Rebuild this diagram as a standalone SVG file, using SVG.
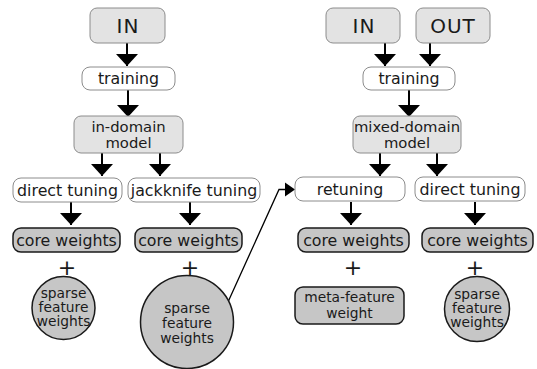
<svg xmlns="http://www.w3.org/2000/svg" width="537" height="369" viewBox="0 0 537 369">
<style>
.lt{fill:#e3e3e3;stroke:#8c8c8c;stroke-width:1}
.wh{fill:#ffffff;stroke:#8c8c8c;stroke-width:1}
.dk{fill:#c6c6c6;stroke:#1a1a1a;stroke-width:1.5}
text{font-family:"DejaVu Sans","Liberation Sans",sans-serif;fill:#1a1a1a;text-anchor:middle}
.big{font-size:20px;letter-spacing:1px}
.m{font-size:15.8px}
.md{font-size:14.8px}
.s{font-size:13.8px}
.plus{font-size:22px}
.ar{stroke:#000;stroke-width:2;fill:none;marker-end:url(#tri)}
</style>
<defs>
<marker id="tri" markerUnits="userSpaceOnUse" viewBox="0 0 12 22" markerWidth="12" markerHeight="22" refX="12" refY="11" orient="auto">
<path d="M0,0 L12,11 L0,22 z" fill="#000"/>
</marker>
</defs>
<g id="connectors">
<line class="ar" x1="127" y1="43" x2="127" y2="66"/>
<line class="ar" x1="128" y1="90" x2="128" y2="117"/>
<line class="ar" x1="102" y1="153" x2="102" y2="176"/>
<line class="ar" x1="160" y1="153" x2="160" y2="176"/>
<line class="ar" x1="71" y1="202" x2="71" y2="225"/>
<line class="ar" x1="190" y1="202" x2="190" y2="225"/>
<line class="ar" x1="385" y1="43" x2="385" y2="66"/>
<line class="ar" x1="430" y1="43" x2="430" y2="66"/>
<line class="ar" x1="409" y1="90" x2="409" y2="117"/>
<line class="ar" x1="380" y1="153" x2="380" y2="176"/>
<line class="ar" x1="437" y1="153" x2="437" y2="176"/>
<line class="ar" x1="351" y1="202" x2="351" y2="225"/>
<line class="ar" x1="475" y1="202" x2="475" y2="225"/>
<path d="M228,302 L279,189.5 L287,189.5" stroke="#000" stroke-width="1.3" fill="none"/>
<path d="M285,182.5 L295,189.5 L285,196.5 z" fill="#000"/>
</g>
<g id="in-left"><rect class="lt" x="90" y="8" width="75" height="35" rx="7"/><text class="big" x="128" y="32.5">IN</text></g>
<g id="training-left"><rect class="wh" x="82" y="67" width="93" height="23" rx="8"/><text class="m" x="128.5" y="84">training</text></g>
<g id="in-domain-model"><rect class="lt" x="74" y="116" width="109" height="37" rx="7"/><text class="md" x="128.5" y="132">in-domain</text><text class="md" x="128.5" y="147.5">model</text></g>
<g id="direct-tuning-left"><rect class="wh" x="13" y="178" width="109" height="24" rx="8"/><text class="m" x="67.5" y="195.5">direct tuning</text></g>
<g id="jackknife-tuning"><rect class="wh" x="128" y="178" width="132" height="24" rx="8"/><text class="m" x="194" y="195.5">jackknife tuning</text></g>
<g id="core-1"><rect class="dk" x="13" y="228" width="107" height="24" rx="8"/><text class="m" x="66.5" y="245.5">core weights</text></g>
<g id="core-2"><rect class="dk" x="135" y="228" width="107" height="24" rx="8"/><text class="m" x="188.5" y="245.5">core weights</text></g>
<g id="plus-1"><text class="plus" x="67" y="275">+</text></g>
<g id="plus-2"><text class="plus" x="190" y="275">+</text></g>
<g id="sparse-1"><circle class="dk" cx="63.5" cy="308" r="31.5"/><text class="s" x="63.5" y="298">sparse</text><text class="s" x="63.5" y="312">feature</text><text class="s" x="63.5" y="326">weights</text></g>
<g id="sparse-2"><circle class="dk" cx="187" cy="322" r="46.5"/><text class="s" x="187" y="313">sparse</text><text class="s" x="187" y="328">feature</text><text class="s" x="187" y="343">weights</text></g>
<g id="in-right"><rect class="lt" x="326" y="8" width="74" height="35" rx="7"/><text class="big" x="364" y="32.5">IN</text></g>
<g id="out"><rect class="lt" x="416" y="8" width="74" height="35" rx="7"/><text class="big" x="453" y="32.5">OUT</text></g>
<g id="training-right"><rect class="wh" x="363" y="67" width="92" height="23" rx="8"/><text class="m" x="409" y="84">training</text></g>
<g id="mixed-domain-model"><rect class="lt" x="353" y="116" width="108" height="37" rx="7"/><text class="md" x="407" y="132">mixed-domain</text><text class="md" x="407" y="147.5">model</text></g>
<g id="retuning"><rect class="wh" x="295" y="177" width="110" height="24" rx="8"/><text class="m" x="350" y="194.5">retuning</text></g>
<g id="direct-tuning-right"><rect class="wh" x="415" y="177" width="110" height="24" rx="8"/><text class="m" x="470" y="194.5">direct tuning</text></g>
<g id="core-3"><rect class="dk" x="298" y="228" width="111" height="24" rx="8"/><text class="m" x="353.5" y="245.5">core weights</text></g>
<g id="core-4"><rect class="dk" x="422" y="228" width="111" height="24" rx="8"/><text class="m" x="477.5" y="245.5">core weights</text></g>
<g id="plus-3"><text class="plus" x="353" y="275">+</text></g>
<g id="plus-4"><text class="plus" x="475" y="275">+</text></g>
<g id="meta-feature-weight"><rect class="dk" x="295" y="287" width="109" height="37" rx="8"/><text class="s" x="349.5" y="302">meta-feature</text><text class="s" x="349.5" y="318">weight</text></g>
<g id="sparse-3"><circle class="dk" cx="477" cy="309" r="32.5"/><text class="s" x="477" y="299">sparse</text><text class="s" x="477" y="313">feature</text><text class="s" x="477" y="327">weights</text></g>
</svg>
